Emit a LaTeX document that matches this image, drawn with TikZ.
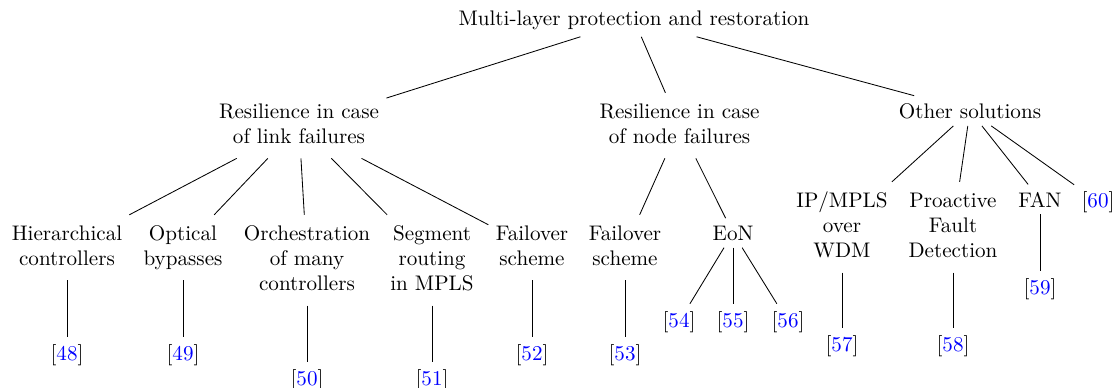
\documentclass[tikz,border=0pt]{standalone}
\usepackage{xcolor}
\newcommand{\tb}[1]{\begin{tabular}[t]{@{}c@{}}#1\end{tabular}}
\newcommand{\rf}[1]{[{\color{blue}#1}]}
\begin{document}
\begin{tikzpicture}[x=0.4739pt,y=-0.4739pt,
  tn/.style={anchor=base, inner sep=0.3333em},
  conn/.style={line width=0.4pt, black}]
\useasboundingbox (0,0) rectangle (1117,388);
% level 0
\node[tn] (root) at (634,25) {Multi-layer protection and restoration};
% level 1
\node[tn] (L1) at (299,118) {\tb{Resilience in case\\of link failures}};
\node[tn] (N1) at (679.5,118) {\tb{Resilience in case\\of node failures}};
\node[tn] (O) at (970,118) {Other solutions};
% level 2
\node[tn] (hier) at (67,240) {\tb{Hierarchical\\controllers}};
\node[tn] (opt) at (183,240) {\tb{Optical\\bypasses}};
\node[tn] (orch) at (307,240) {\tb{Orchestration\\of many\\controllers}};
\node[tn] (seg) at (432,240) {\tb{Segment\\routing\\in MPLS}};
\node[tn] (failL) at (532,240) {\tb{Failover\\scheme}};
\node[tn] (failN) at (625,240) {\tb{Failover\\scheme}};
\node[tn] (eon) at (733,240) {EoN};
\node[tn] (ip) at (842,207) {\tb{IP/MPLS\\over\\WDM}};
\node[tn] (pro) at (953,207) {\tb{Proactive\\Fault\\Detection}};
\node[tn] (fan) at (1040,207) {FAN};
\node[tn] (r60) at (1098,207) {\rf{60}};
% references
\node[tn] (r48) at (67,360) {\rf{48}};
\node[tn] (r49) at (183,360) {\rf{49}};
\node[tn] (r50) at (307,385) {\rf{50}};
\node[tn] (r51) at (432,385) {\rf{51}};
\node[tn] (r52) at (532,360) {\rf{52}};
\node[tn] (r53) at (625,360) {\rf{53}};
\node[tn] (r54) at (679,327) {\rf{54}};
\node[tn] (r55) at (733,327) {\rf{55}};
\node[tn] (r56) at (788,327) {\rf{56}};
\node[tn] (r57) at (842,351) {\rf{57}};
\node[tn] (r58) at (953,351) {\rf{58}};
\node[tn] (r59) at (1040,294) {\rf{59}};
% connectors
\draw[conn] (root) -- (L1);
\draw[conn] (root) -- (N1);
\draw[conn] (root) -- (O);
\draw[conn] (L1) -- (hier);
\draw[conn] (L1) -- (opt);
\draw[conn] (L1) -- (orch);
\draw[conn] (L1) -- (seg);
\draw[conn] (L1) -- (failL);
\draw[conn] (N1) -- (failN);
\draw[conn] (N1) -- (eon);
\draw[conn] (O) -- (ip);
\draw[conn] (O) -- (pro);
\draw[conn] (O) -- (fan);
\draw[conn] (O) -- (r60);
\draw[conn] (hier) -- (r48);
\draw[conn] (opt) -- (r49);
\draw[conn] (orch) -- (r50);
\draw[conn] (seg) -- (r51);
\draw[conn] (failL) -- (r52);
\draw[conn] (failN) -- (r53);
\draw[conn] (eon) -- (r54);
\draw[conn] (eon) -- (r55);
\draw[conn] (eon) -- (r56);
\draw[conn] (ip) -- (r57);
\draw[conn] (pro) -- (r58);
\draw[conn] (fan) -- (r59);
\end{tikzpicture}
\end{document}
